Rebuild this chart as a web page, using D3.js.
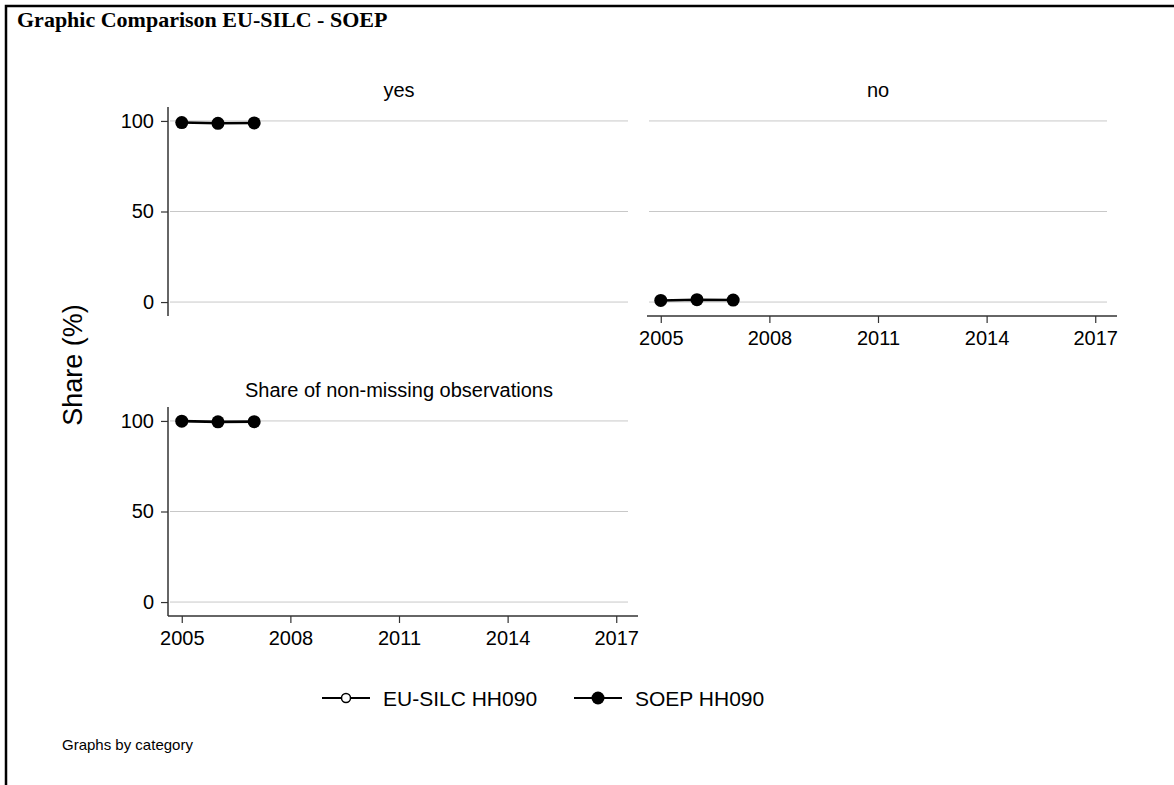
<!DOCTYPE html>
<html>
<head>
<meta charset="utf-8">
<script src="https://cdn.jsdelivr.net/npm/d3@7"></script>
<style>
  html, body { margin: 0; padding: 0; background: #fff; }
  svg { display: block; }
</style>
</head>
<body>
<svg id="chart" width="1174" height="785"></svg>
<script>
// ---- data ----
const years = [2005, 2006, 2007];
const panelTitles = ["yes", "no", "Share of non-missing observations"];
const soepYes = [99.1, 98.7, 98.9];
const soepNo = [0.9, 1.3, 1.1];
const soepNonMissing = [99.9, 99.5, 99.6];
const euSilcYes = [];
const euSilcNo = [];
const euSilcNonMissing = [];
const xTicks = [2005, 2008, 2011, 2014, 2017];
const yTicks = [0, 50, 100];
const seriesNames = ["EU-SILC HH090", "SOEP HH090"];
const chartTitle = "Graphic Comparison EU-SILC - SOEP";
const yAxisTitle = "Share (%)";
const noteText = "Graphs by category";

const svg = d3.select("#chart");
const FONT = "Liberation Sans, Arial, sans-serif";

// frame
svg.append("path")
  .attr("d", "M6,785 L6,6 L1174,6")
  .attr("fill", "none").attr("stroke", "#000").attr("stroke-width", 2.5);

svg.append("text")
  .attr("x", 17).attr("y", 27)
  .attr("font-family", "Liberation Serif, Times New Roman, serif")
  .attr("font-weight", "bold").attr("font-size", 22)
  .text(chartTitle);

const panels = [
  { title: panelTitles[0], soep: soepYes, eu: euSilcYes, x0: 168, x1: 630, top: 107, bottom: 316, yAxis: true, xAxis: false },
  { title: panelTitles[1], soep: soepNo, eu: euSilcNo, x0: 647, x1: 1109, top: 107, bottom: 316, yAxis: false, xAxis: true },
  { title: panelTitles[2], soep: soepNonMissing, eu: euSilcNonMissing, x0: 168, x1: 630, top: 407, bottom: 616, yAxis: true, xAxis: true }
];

panels.forEach(p => {
  const x = d3.scaleLinear().domain([2004.62, 2017.38]).range([p.x0, p.x1]);
  const y = d3.scaleLinear().domain([-7.7, 107.7]).range([p.bottom, p.top]);
  const g = svg.append("g");

  // gridlines
  g.selectAll("line.grid").data(yTicks).enter().append("line")
    .attr("x1", p.x0 + 2).attr("x2", p.x1 - 2)
    .attr("y1", d => y(d)).attr("y2", d => y(d))
    .attr("stroke", "#c8c8c8").attr("stroke-width", 1);

  // title
  g.append("text")
    .attr("x", (p.x0 + p.x1) / 2).attr("y", p.top - 10)
    .attr("text-anchor", "middle")
    .attr("font-family", FONT).attr("font-size", 20)
    .text(p.title);

  if (p.yAxis) {
    const ya = g.append("g").attr("transform", `translate(${p.x0},0)`)
      .call(d3.axisLeft(y).tickValues(yTicks).tickSize(7).tickPadding(7).tickSizeOuter(0));
    ya.select(".domain").attr("stroke", "#333").attr("stroke-width", 1.5)
      .attr("d", `M0,${p.bottom}V${p.top}`);
    ya.selectAll(".tick line").attr("stroke", "#333").attr("stroke-width", 1.2);
    ya.selectAll(".tick text").attr("font-family", FONT).attr("font-size", 20).attr("fill", "#000");
  }
  if (p.xAxis) {
    const xa = g.append("g").attr("transform", `translate(0,${p.bottom})`)
      .call(d3.axisBottom(x).tickValues(xTicks).tickFormat(d3.format("d")).tickSize(7).tickPadding(8).tickSizeOuter(0));
    xa.select(".domain").attr("stroke", "#333").attr("stroke-width", 1.5)
      .attr("d", `M${p.x0},0H${p.x1 + 8}`);
    xa.selectAll(".tick line").attr("stroke", "#333").attr("stroke-width", 1.2);
    xa.selectAll(".tick text").attr("font-family", FONT).attr("font-size", 20).attr("fill", "#000");
  }

  const line = d3.line().x((d, i) => x(years[i])).y(d => y(d));
  // EU-SILC (no data visible)
  if (p.eu.length) {
    g.append("path").datum(p.eu).attr("d", line).attr("fill", "none").attr("stroke", "#000").attr("stroke-width", 2);
    g.selectAll("circle.eu").data(p.eu).enter().append("circle")
      .attr("cx", (d, i) => x(years[i])).attr("cy", d => y(d)).attr("r", 4)
      .attr("fill", "#fff").attr("stroke", "#000").attr("stroke-width", 1.5);
  }
  // SOEP
  g.append("path").datum(p.soep).attr("d", line)
    .attr("fill", "none").attr("stroke", "#000").attr("stroke-width", 2.6);
  g.selectAll("circle.soep").data(p.soep).enter().append("circle")
    .attr("cx", (d, i) => x(years[i])).attr("cy", d => y(d)).attr("r", 6.5)
    .attr("fill", "#000");
});

// y axis title
svg.append("text")
  .attr("transform", "translate(82,365) rotate(-90)")
  .attr("text-anchor", "middle")
  .attr("font-family", FONT).attr("font-size", 27)
  .text(yAxisTitle);

// legend
const leg = svg.append("g").attr("transform", "translate(0,698)");
const legItems = [
  { name: seriesNames[0], x: 322, hollow: true },
  { name: seriesNames[1], x: 574, hollow: false }
];
legItems.forEach(it => {
  leg.append("line").attr("x1", it.x).attr("x2", it.x + 48).attr("y1", 0).attr("y2", 0)
    .attr("stroke", "#000").attr("stroke-width", 2);
  if (it.hollow) {
    leg.append("circle").attr("cx", it.x + 24).attr("cy", 0).attr("r", 4.5)
      .attr("fill", "#fff").attr("stroke", "#000").attr("stroke-width", 1.5);
  } else {
    leg.append("circle").attr("cx", it.x + 24).attr("cy", 0).attr("r", 6.5).attr("fill", "#000");
  }
  leg.append("text").attr("x", it.x + 61).attr("y", 7.5)
    .attr("font-family", FONT).attr("font-size", 21)
    .text(it.name);
});

svg.append("text")
  .attr("x", 62).attr("y", 750)
  .attr("font-family", FONT).attr("font-size", 15)
  .text(noteText);
</script>
</body>
</html>
